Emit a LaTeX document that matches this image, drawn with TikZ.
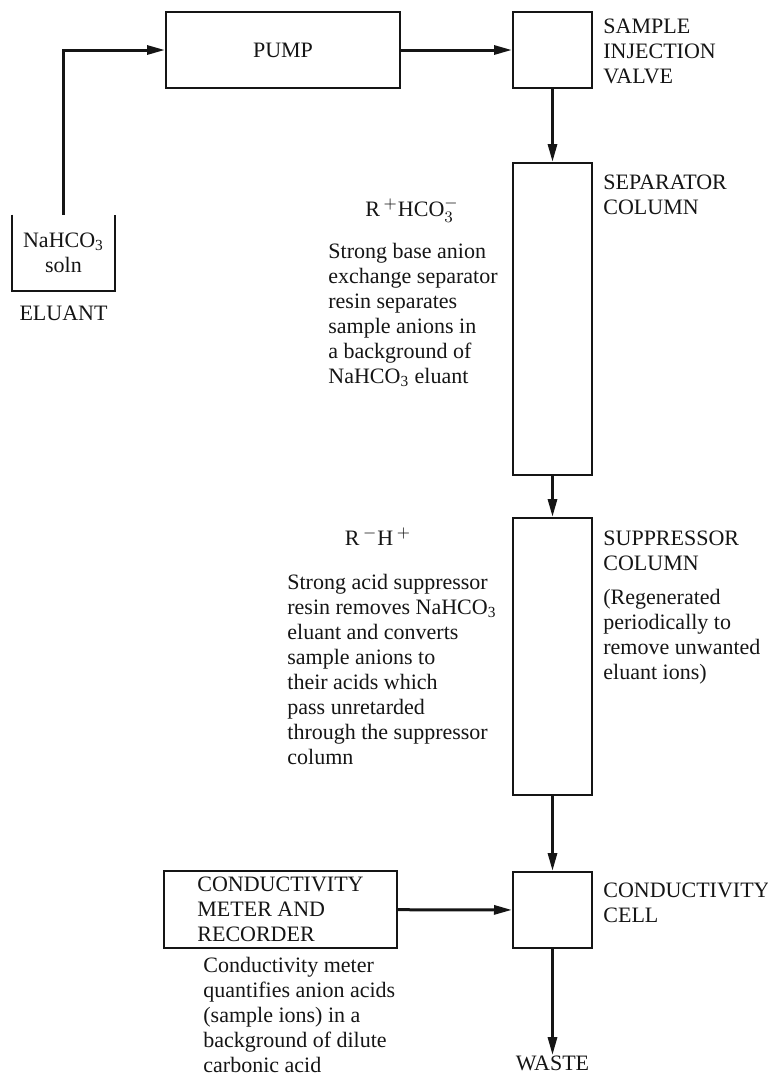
\documentclass[tikz,border=0pt]{standalone}
\usepackage{fontspec}
\setmainfont{Liberation Serif}
\usepackage{tikz}
\usetikzlibrary{arrows.meta,positioning,calc}
\definecolor{ink}{HTML}{151515}
\tikzset{
  box/.style={draw=ink, line width=1pt, inner sep=0pt, align=center, text=ink},
  colbox/.style={box, minimum width=39.5pt},
  arr/.style={-{Triangle[length=9pt,width=4.5pt]}, line width=1.5pt, draw=ink},
  lab/.style={anchor=west, align=left, inner sep=0pt, text=ink},
  note/.style={align=center, inner sep=0pt, text=ink},
}

\begin{document}
\begin{tikzpicture}[x=0.5pt, y=-0.5pt, font=\fontsize{11}{12.5}\selectfont]
    \useasboundingbox (0,0) rectangle (767,1078);
    % flow line, top to bottom
    \node[box, minimum width=117pt, minimum height=38pt] (pump) at (283,50) {PUMP};
    \node[colbox, minimum height=38pt] (valve) at (552.5,50) {};
    \node[colbox, minimum height=156pt] (sep) at (552.5,319) {};
    \node[colbox, minimum height=138.5pt] (sup) at (552.5,656.5) {};
    \node[colbox, minimum height=38pt] (cell) at (552.5,910) {};
    \node[box, minimum width=116.5pt, minimum height=38.5pt, align=left] (meter) at (280.5,909.5)
      {CONDUCTIVITY\\METER AND\\RECORDER};
    \node[note] (waste) at (552.5,1063) {WASTE};
    % eluant bottle, open at the top
    \node[note, minimum width=51.5pt, minimum height=38pt] (eluant) at (63.5,253) {NaHCO\textsubscript{3}\\soln};
    \draw[ink, line width=1pt] (eluant.north west) |- (eluant.south east) -- (eluant.north east);
    \node[note] (eluname) at (63.5,313) {ELUANT};
    % labels right of the columns
    \node[lab] (valvelab) at (603,51) {SAMPLE\\INJECTION\\VALVE};
    \node[lab] (seplab) at (603,195) {SEPARATOR\\COLUMN};
    \node[lab] (suplab) at (603,551) {SUPPRESSOR\\COLUMN};
    \node[lab] (supnote) at (603,637) {(Regenerated\\periodically to\\remove unwanted\\eluant ions)};
    \node[lab] (celllab) at (603,903) {CONDUCTIVITY\\CELL};
    % resin notes left of the columns
    \node[note] (sepion) at (412,210) {R\,$^{+}$HCO$_3^{-}$};
    \node[lab] (septext) at (328,315) {Strong base anion\\exchange separator\\resin separates\\sample anions in\\a background of\\NaHCO\textsubscript{3} eluant};
    \node[note] (supion) at (378,537) {R\,$^{-}$H\,$^{+}$};
    \node[lab] (suptext) at (287,669.5) {Strong acid suppressor\\resin removes NaHCO\textsubscript{3}\\eluant and converts\\sample anions to\\their acids which\\pass unretarded\\through the suppressor\\column};
    \node[lab] (metertext) at (203,1015) {Conductivity meter\\quantifies anion acids\\(sample ions) in a\\background of dilute\\carbonic acid};
    % connectors
    \draw[arr] (eluant.north) |- (pump.west);
    \draw[arr] (pump) -- (valve);
    \draw[arr] (valve) -- (sep);
    \draw[arr] (sep) -- (sup);
    \draw[arr] (sup) -- (cell);
    \draw[arr] (meter) -- (cell);
    \draw[arr] (cell) -- (waste);
  \end{tikzpicture}
\end{document}
